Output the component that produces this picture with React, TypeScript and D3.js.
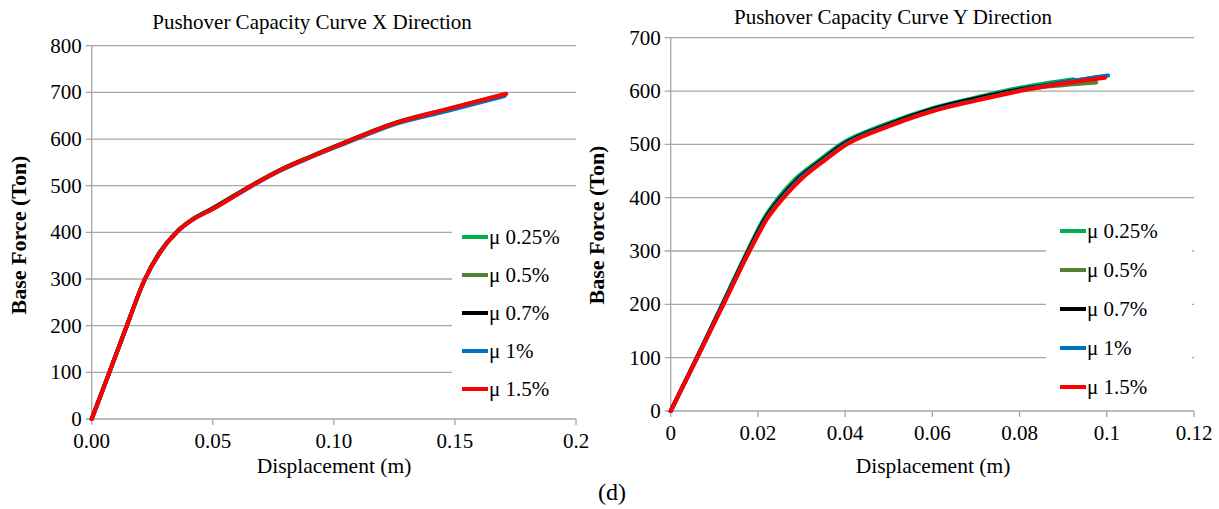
import React from 'react';
import * as d3 from 'd3';

// legend / series names
const seriesNames = ['μ 0.25%', 'μ 0.5%', 'μ 0.7%', 'μ 1%', 'μ 1.5%'];
const seriesColors = ['#00b050', '#548235', '#000000', '#0070c0', '#ff0000'];

// X direction (left chart) displacement (m) / base force (ton)
const xDirDisp025 = [0, 0.0073, 0.0145, 0.022, 0.028, 0.035, 0.0413, 0.05, 0.066, 0.0778, 0.09, 0.1054, 0.126, 0.1467, 0.1705];
const xDirForce025 = [0, 100, 200, 300, 357, 401, 427, 452, 501, 534, 562, 595, 636, 664, 696];
const xDirDisp05 = [0, 0.0073, 0.0145, 0.022, 0.028, 0.035, 0.0413, 0.05, 0.066, 0.0778, 0.09, 0.1054, 0.126, 0.1467, 0.1705];
const xDirForce05 = [0, 100, 200, 300, 356, 400, 426, 451, 500, 533, 561, 594, 635, 663, 695];
const xDirDisp07 = [0, 0.0073, 0.0145, 0.022, 0.028, 0.035, 0.0413, 0.05, 0.066, 0.0778, 0.09, 0.1054, 0.126, 0.1467, 0.1705];
const xDirForce07 = [0, 100, 200, 300, 356, 400, 426, 451, 500, 533, 561, 594, 635, 663, 695];
const xDirDisp1 = [0, 0.0073, 0.0145, 0.022, 0.028, 0.035, 0.0413, 0.05, 0.066, 0.0778, 0.09, 0.1054, 0.126, 0.1467, 0.1705];
const xDirForce1 = [0, 100, 200, 300, 355, 400, 426, 450, 499, 532, 560, 592, 633, 660, 692];
const xDirDisp15 = [0, 0.0073, 0.0145, 0.022, 0.028, 0.035, 0.0413, 0.05, 0.066, 0.0778, 0.09, 0.1054, 0.126, 0.1467, 0.1712];
const xDirForce15 = [0, 100, 200, 300, 355, 400, 426, 450, 500, 533, 561, 594, 635, 664, 697];

// Y direction (right chart)
const yDirDisp025 = [0, 0.006, 0.0118, 0.0176, 0.0213, 0.0247, 0.0283, 0.034, 0.0389, 0.049, 0.06, 0.07, 0.08, 0.0923];
const yDirForce025 = [0, 100, 200, 300, 360, 400, 433, 470, 500, 537, 568, 588, 606, 622];
const yDirDisp05 = [0, 0.006, 0.012, 0.0179, 0.0217, 0.0253, 0.029, 0.0345, 0.0396, 0.0497, 0.06, 0.07, 0.08, 0.09, 0.0976];
const yDirForce05 = [0, 100, 200, 300, 360, 400, 433, 469, 500, 536, 565, 585, 602, 611, 616];
const yDirDisp07 = [0, 0.006, 0.0119, 0.0178, 0.0216, 0.0252, 0.0289, 0.0344, 0.0395, 0.0496, 0.06, 0.07, 0.08, 0.09, 0.098];
const yDirForce07 = [0, 100, 200, 300, 360, 400, 433, 469, 500, 536, 566, 586, 603, 616, 626];
const yDirDisp1 = [0, 0.0061, 0.012, 0.018, 0.0219, 0.0256, 0.0293, 0.0347, 0.04, 0.05, 0.06, 0.07, 0.08, 0.09, 0.1003];
const yDirForce1 = [0, 100, 200, 300, 360, 400, 433, 468, 500, 535, 563, 583, 601, 616, 629];
const yDirDisp15 = [0, 0.0061, 0.0121, 0.0181, 0.0221, 0.0259, 0.0297, 0.035, 0.0404, 0.0504, 0.06, 0.07, 0.08, 0.09, 0.0996];
const yDirForce15 = [0, 100, 200, 300, 360, 400, 433, 468, 500, 535, 562, 582, 600, 614, 625];

const xDirTicksX = [0, 0.05, 0.1, 0.15, 0.2];
const xDirTickLabelsX = ['0.00', '0.05', '0.10', '0.15', '0.2'];
const xDirTicksY = [0, 100, 200, 300, 400, 500, 600, 700, 800];
const yDirTicksX = [0, 0.02, 0.04, 0.06, 0.08, 0.1, 0.12];
const yDirTickLabelsX = ['0', '0.02', '0.04', '0.06', '0.08', '0.1', '0.12'];
const yDirTicksY = [0, 100, 200, 300, 400, 500, 600, 700];

const font = '"Liberation Serif", "Times New Roman", serif';

type Cfg = {
  title: string;
  titleX: number;
  titleY: number;
  left: number;
  right: number;
  top: number;
  bottom: number;
  xMax: number;
  yMax: number;
  ticksX: number[];
  tickLabelsX: string[];
  ticksY: number[];
  series: { d: number[]; f: number[] }[];
  xLabelX: number;
  yLabelX: number;
  yLabelY: number;
  legend: { x: number; y: number; w: number; h: number; rowY: number[]; lineX: number };
};

function Chart({ c }: { c: Cfg }) {
  const x = d3.scaleLinear().domain([0, c.xMax]).range([c.left, c.right]);
  const y = d3.scaleLinear().domain([0, c.yMax]).range([c.bottom, c.top]);
  const line = d3
    .line<[number, number]>()
    .x((p) => x(p[0]))
    .y((p) => y(p[1]))
    .curve(d3.curveMonotoneX);

  return (
    <g fontFamily={font}>
      <text x={c.titleX} y={c.titleY} textAnchor="middle" fontSize={21} fill="#000">
        {c.title}
      </text>
      {/* gridlines */}
      {c.ticksY.map((t) => (
        <line key={'g' + t} x1={c.left - 6} x2={c.right} y1={y(t)} y2={y(t)} stroke="#a6a6a6" strokeWidth={1.3} />
      ))}
      <line x1={c.left} x2={c.left} y1={c.top} y2={c.bottom} stroke="#a6a6a6" strokeWidth={1.3} />
      {c.ticksX.map((t) => (
        <line key={'xt' + t} x1={x(t)} x2={x(t)} y1={c.bottom} y2={c.bottom + 6} stroke="#a6a6a6" strokeWidth={1.3} />
      ))}
      {c.ticksY.map((t) => (
        <text key={'yl' + t} x={c.left - 10} y={y(t) + 7} textAnchor="end" fontSize={21}>
          {t}
        </text>
      ))}
      {c.ticksX.map((t, i) => (
        <text key={'xl' + t} x={x(t)} y={c.bottom + 29} textAnchor="middle" fontSize={21}>
          {c.tickLabelsX[i]}
        </text>
      ))}
      <text x={c.xLabelX} y={473} textAnchor="middle" fontSize={21.5}>
        Displacement (m)
      </text>
      <text
        transform={`translate(${c.yLabelX},${c.yLabelY}) rotate(-90)`}
        textAnchor="middle"
        fontSize={22}
        fontWeight="bold"
      >
        Base Force (Ton)
      </text>
      {/* legend box hides the grid behind it */}
      <rect x={c.legend.x} y={c.legend.y} width={c.legend.w} height={c.legend.h} fill="#fff" />
      {c.series.map((s, i) => (
        <path
          key={'s' + i}
          d={line(s.d.map((v, k) => [v, s.f[k]]) as [number, number][]) || ''}
          fill="none"
          stroke={seriesColors[i]}
          strokeWidth={4}
          strokeLinejoin="round"
          strokeLinecap="round"
        />
      ))}
      {seriesNames.map((n, i) => (
        <g key={'lg' + i}>
          <line
            x1={c.legend.lineX}
            x2={c.legend.lineX + 26}
            y1={c.legend.rowY[i]}
            y2={c.legend.rowY[i]}
            stroke={seriesColors[i]}
            strokeWidth={4}
          />
          <text x={c.legend.lineX + 27} y={c.legend.rowY[i] + 7} fontSize={21}>
            {n}
          </text>
        </g>
      ))}
    </g>
  );
}

export default function App() {
  const left: Cfg = {
    title: 'Pushover Capacity Curve X Direction',
    titleX: 312,
    titleY: 29,
    left: 91.7,
    right: 576,
    top: 45.7,
    bottom: 419,
    xMax: 0.2,
    yMax: 800,
    ticksX: xDirTicksX,
    tickLabelsX: xDirTickLabelsX,
    ticksY: xDirTicksY,
    series: [
      { d: xDirDisp025, f: xDirForce025 },
      { d: xDirDisp05, f: xDirForce05 },
      { d: xDirDisp07, f: xDirForce07 },
      { d: xDirDisp1, f: xDirForce1 },
      { d: xDirDisp15, f: xDirForce15 },
    ],
    xLabelX: 334,
    yLabelX: 26,
    yLabelY: 235,
    legend: { x: 452, y: 212, w: 124, h: 196, rowY: [237, 275, 313, 351, 389], lineX: 462 },
  };
  const right: Cfg = {
    title: 'Pushover Capacity Curve Y Direction',
    titleX: 893,
    titleY: 24,
    left: 670.7,
    right: 1194,
    top: 37.7,
    bottom: 411,
    xMax: 0.12,
    yMax: 700,
    ticksX: yDirTicksX,
    tickLabelsX: yDirTickLabelsX,
    ticksY: yDirTicksY,
    series: [
      { d: yDirDisp025, f: yDirForce025 },
      { d: yDirDisp05, f: yDirForce05 },
      { d: yDirDisp07, f: yDirForce07 },
      { d: yDirDisp1, f: yDirForce1 },
      { d: yDirDisp15, f: yDirForce15 },
    ],
    xLabelX: 933,
    yLabelX: 604,
    yLabelY: 225,
    legend: { x: 1046, y: 208, w: 146, h: 194, rowY: [231, 270, 309, 348, 387], lineX: 1060 },
  };
  return (
    <svg width={1219} height={509} style={{ position: 'absolute', left: 0, top: 0, background: '#fff' }}>
      <Chart c={left} />
      <Chart c={right} />
      <text x={612} y={500} textAnchor="middle" fontSize={24} fontFamily={font}>
        (d)
      </text>
    </svg>
  );
}
